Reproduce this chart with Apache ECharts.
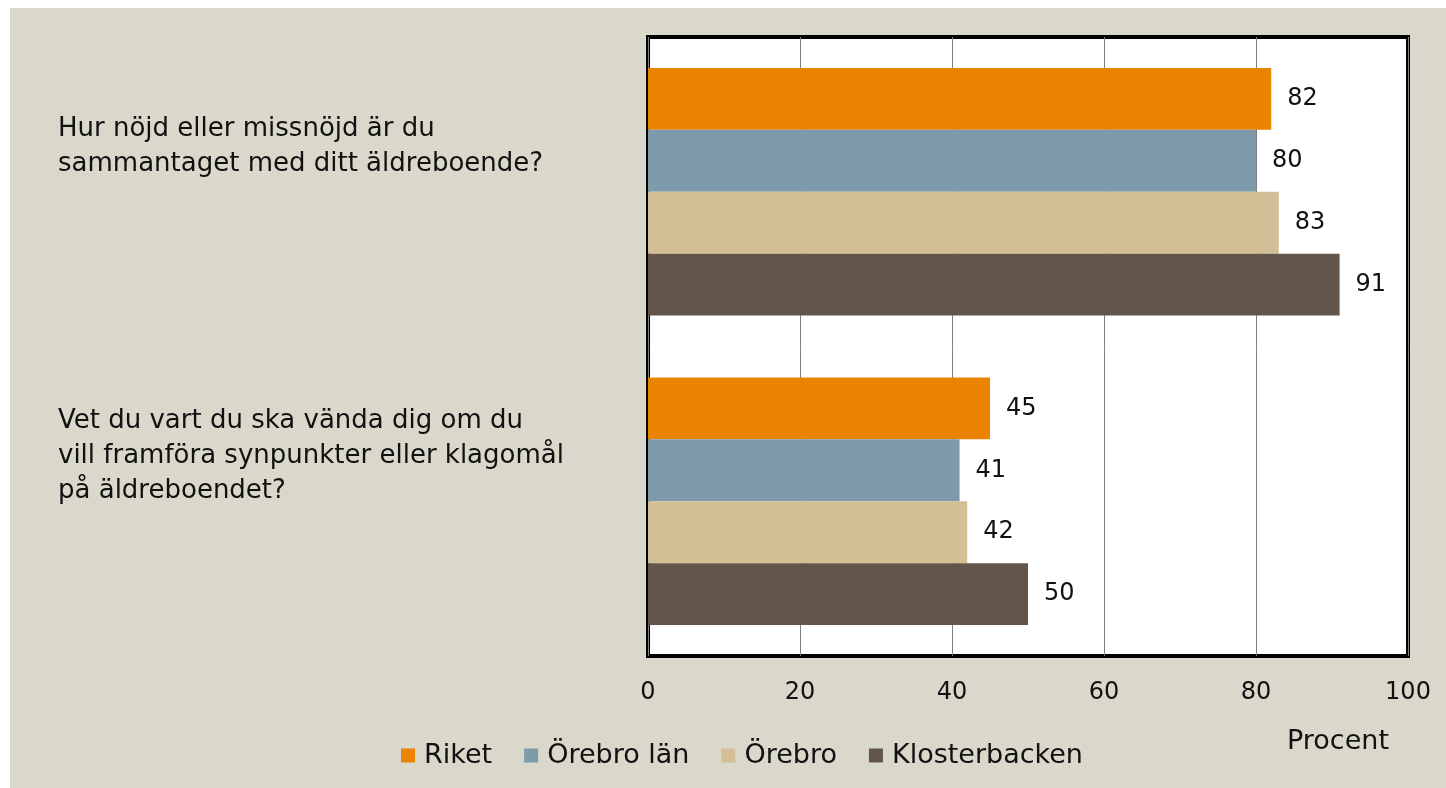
<!DOCTYPE html>
<html>
<head>
<meta charset="utf-8">
<script src="https://cdn.jsdelivr.net/npm/echarts@6/dist/echarts.min.js"></script>
<style>
  html, body { margin: 0; padding: 0; background: #fff; }
  #chart { position: absolute; left: 10px; top: 8px; width: 1436px; height: 780px; }
</style>
</head>
<body>
<div id="chart"></div>
<script>
const questions = [
  'Hur nöjd eller missnöjd är du\nsammantaget med ditt äldreboende?',
  'Vet du vart du ska vända dig om du\nvill framföra synpunkter eller klagomål\npå äldreboendet?'
];
const seriesNames = ['Riket', 'Örebro län', 'Örebro', 'Klosterbacken'];
const riket = [82, 45];
const orebroLan = [80, 41];
const orebro = [83, 42];
const klosterbacken = [91, 50];
const colors = ['#E98300', '#7E9BAB', '#D3BF95', '#63554A'];

const FONT = 'DejaVu Sans';
const chart = echarts.init(document.getElementById('chart'));

const values = [riket, orebroLan, orebro, klosterbacken];

// an invisible spacer line under the question lifts the text above the band centre
const questionLabel = (v) => v + '\n{gap| }';

chart.setOption({
  backgroundColor: '#DAD8CB',
  animation: false,
  textStyle: { fontFamily: FONT, color: '#111' },
  grid: {
    left: 638, top: 29, width: 760, height: 619,
    outerBoundsMode: 'none', containLabel: false,
    show: true, backgroundColor: '#fff', borderColor: '#000', borderWidth: 4
  },
  legend: {
    left: 386, top: 729,
    itemWidth: 14, itemHeight: 14, itemGap: 32,
    icon: 'rect',
    textStyle: { fontFamily: FONT, fontSize: 27, color: '#111', padding: [0, 0, 0, 4] },
    data: seriesNames
  },
  xAxis: {
    type: 'value', min: 0, max: 100, interval: 20,
    axisLine: { show: false }, axisTick: { show: false },
    splitLine: { lineStyle: { color: '#808080', width: 1 } },
    axisLabel: { fontFamily: FONT, fontSize: 24, color: '#111', margin: 25 },
    name: 'Procent', nameLocation: 'end', nameGap: -70, nameMoveOverlap: false,
    nameTextStyle: {
      fontFamily: FONT, fontSize: 27, color: '#111',
      align: 'center', verticalAlign: 'top', lineHeight: 172
    }
  },
  yAxis: {
    type: 'category', inverse: true, data: questions,
    axisLine: { show: false }, axisTick: { show: false },
    axisLabel: {
      fontFamily: FONT, fontSize: 26, color: '#111', lineHeight: 35,
      align: 'left', margin: 590, verticalAlign: 'middle',
      formatter: questionLabel,
      rich: {
        gap: { fontSize: 2, lineHeight: 90, height: 90 }
      }
    }
  },
  series: seriesNames.map((name, i) => ({
    name, type: 'bar', data: values[i],
    barGap: '0%', barCategoryGap: '20%',
    itemStyle: { color: colors[i] },
    label: { show: true, position: 'right', distance: 16, fontFamily: FONT, fontSize: 24, color: '#111' }
  }))
});
</script>
</body>
</html>
